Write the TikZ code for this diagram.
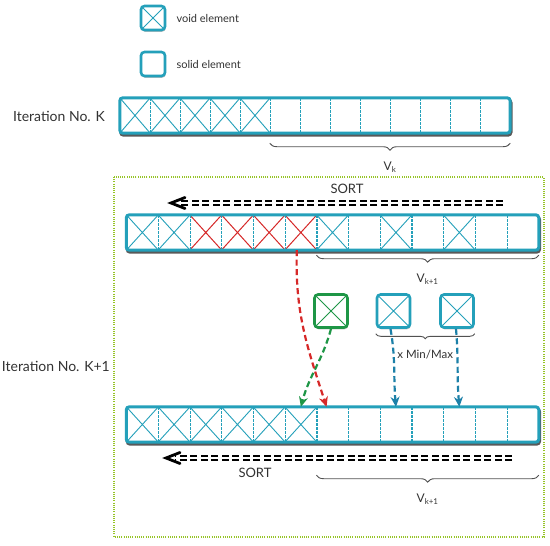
\documentclass[tikz,border=0pt]{standalone}
\usepackage{fontspec}
\setmainfont{Lato}
\usetikzlibrary{arrows.meta,decorations.pathreplacing,positioning,shadows}

\definecolor{cellteal}{RGB}{36,160,186}
\definecolor{arrowblue}{RGB}{28,128,168}
\definecolor{voidred}{RGB}{214,40,40}
\definecolor{newgreen}{RGB}{30,150,70}
\definecolor{framegreen}{RGB}{150,196,40}
\definecolor{labelgray}{RGB}{50,50,50}

\begin{document}
\begin{tikzpicture}[x=1pt,y=-1pt,
    cell/.style={minimum width=#1,minimum height=35pt,inner sep=0pt},
    cell/.default=31.7pt,
    divider/.style={cellteal,line width=1.2pt,dash pattern=on 3pt off 1pt},
    cross/.style={cellteal,line width=0.9pt},
    redcross/.style={voidred,line width=1pt},
    barframe/.style={cellteal,line width=3pt,rounded corners=3pt},
    barshadow/.style={black!65,line width=3pt,rounded corners=3pt},
    box/.style={draw=#1,fill=white,line width=2.6pt,rounded corners=3.5pt,inner sep=0pt,
        minimum size=33pt,drop shadow={shadow xshift=0.6pt,shadow yshift=-1.8pt,opacity=0.5}},
    box/.default=cellteal,
    xbox/.style={box=#1,path picture={\draw[#1,line width=0.9pt]
        (path picture bounding box.north west) -- (path picture bounding box.south east)
        (path picture bounding box.north east) -- (path picture bounding box.south west);}},
    xbox/.default=cellteal,
    brace/.style={decorate,decoration={brace,mirror,amplitude=7pt},labelgray!85,line width=0.9pt},
    movearrow/.style={#1,line width=2.2pt,dash pattern=on 6pt off 3.5pt,-{Stealth[length=10pt,width=9pt]}},
    sortline/.style={black,line width=1.8pt,double=white,double distance=1.8pt,dash pattern=on 7pt off 3.5pt},
    chevron/.style={black,line width=2.8pt,line cap=round,line join=miter},
    txt/.style={text=labelgray,inner sep=1pt}
]
\useasboundingbox (0,0) rectangle (550,546);

% legend
\node[xbox,minimum size=24pt] (legVoid) at (153,18) {};
\node[txt,right=9pt of legVoid,font=\fontsize{11}{13}\selectfont] (legVoidTxt) {void element};
\node[box,minimum size=24pt] (legSolid) at (153,64) {};
\node[txt,right=9pt of legSolid,font=\fontsize{11}{13}\selectfont] (legSolidTxt) {solid element};

% iteration K
\node[txt,anchor=east,font=\fontsize{14}{16}\selectfont] (itK) at (106,116) {Iteration No. K};
\foreach \i in {1,...,13}
    \node[cell=30pt] (k\i) at ({105+30*\i},115.5) {};
\draw[barshadow] ([shift={(0.8pt,-2pt)}]k1.north west) rectangle ([shift={(0.8pt,-2pt)}]k13.south east);
\fill[white] (k1.north west) rectangle (k13.south east);
\foreach \i in {1,...,5}
    \draw[cross] (k\i.north west) -- (k\i.south east) (k\i.south west) -- (k\i.north east);
\foreach \i in {1,...,12}
    \draw[divider] (k\i.north east) -- (k\i.south east);
\draw[barframe] (k1.north west) rectangle (k13.south east);
\draw[brace] ([yshift=-10pt]k6.south west) -- ([yshift=-10pt]k13.south east)
    node[txt,midway,below=17pt,font=\fontsize{12}{14}\selectfont] {V\textsubscript{k}};

% iteration K+1
\draw[framegreen,line width=1.1pt,dash pattern=on 1pt off 1.2pt] (114,177) rectangle (544,537);
\node[txt,anchor=east,font=\fontsize{14}{16}\selectfont] (itK1) at (111,366) {Iteration No. K+1};

\coordinate (sortA) at (503,203);
\coordinate (tipA) at (171,203);
\draw[sortline] (sortA) -- ([xshift=9pt]tipA);
\draw[chevron] ([shift={(14pt,5.5pt)}]tipA) -- (tipA) -- ([shift={(14pt,-5.5pt)}]tipA);
\node[txt,font=\fontsize{13}{15}\selectfont] (sortTxtA) at (347,189) {SORT};

\foreach \i in {1,...,13}
    \node[cell] (a\i) at ({110.65+31.7*\i},232.5) {};
\draw[barshadow] ([shift={(0.8pt,-2pt)}]a1.north west) rectangle ([shift={(0.8pt,-2pt)}]a13.south east);
\fill[white] (a1.north west) rectangle (a13.south east);
\foreach \i in {1,2,7,9,11}
    \draw[cross] (a\i.north west) -- (a\i.south east) (a\i.south west) -- (a\i.north east);
\foreach \i in {3,...,6}
    \draw[redcross] (a\i.north west) -- (a\i.south east) (a\i.south west) -- (a\i.north east);
\foreach \i in {1,...,12}
    \draw[divider] (a\i.north east) -- (a\i.south east);
\draw[barframe] (a1.north west) rectangle (a13.south east);
\draw[brace] ([yshift=-5pt]a7.south west) -- ([yshift=-5pt]a13.south east)
    node[txt,midway,below=17pt,font=\fontsize{12}{14}\selectfont] {V\textsubscript{k+1}};

\node[xbox=newgreen] (newEl) at (331,311) {};
\node[xbox] (minEl) at (393.5,311) {};
\node[xbox] (maxEl) at (457,311) {};
\draw[brace,decoration={amplitude=5pt}] ([yshift=-5pt]minEl.south west) -- ([yshift=-5pt]maxEl.south east)
    node[txt,midway,below=15pt,font=\fontsize{11.5}{13}\selectfont] (minmax) {x Min/Max};

\foreach \i in {1,...,13}
    \node[cell] (b\i) at ({110.65+31.7*\i},424.5) {};
\draw[barshadow] ([shift={(0.8pt,-2pt)}]b1.north west) rectangle ([shift={(0.8pt,-2pt)}]b13.south east);
\fill[white] (b1.north west) rectangle (b13.south east);
\foreach \i in {1,...,6}
    \draw[cross] (b\i.north west) -- (b\i.south east) (b\i.south west) -- (b\i.north east);
\foreach \i in {1,...,12}
    \draw[divider] (b\i.north east) -- (b\i.south east);
\draw[barframe] (b1.north west) rectangle (b13.south east);
\draw[brace] ([yshift=-33pt]b7.south west) -- ([yshift=-33pt]b13.south east)
    node[txt,midway,below=17pt,font=\fontsize{12}{14}\selectfont] {V\textsubscript{k+1}};

\coordinate (sortB) at (512,458);
\coordinate (tipB) at (166,458);
\draw[sortline] (sortB) -- ([xshift=9pt]tipB);
\draw[chevron] ([shift={(14pt,5.5pt)}]tipB) -- (tipB) -- ([shift={(14pt,-5.5pt)}]tipB);
\node[txt,font=\fontsize{13}{15}\selectfont] (sortTxtB) at (255,473) {SORT};

% moves
\draw[movearrow=newgreen] (newEl.south) to[out=-105,in=75] (b6.north);
\draw[movearrow=voidred] ([xshift=-4pt]a6.south) to[out=-92,in=108] ([xshift=-6pt]b7.north);
\draw[movearrow=arrowblue] ([xshift=-3pt]minEl.south) to[out=-80,in=95] (b9.north);
\draw[movearrow=arrowblue] ([xshift=-1pt]maxEl.south) to[out=-85,in=95] (b11.north);
\end{tikzpicture}
\end{document}
